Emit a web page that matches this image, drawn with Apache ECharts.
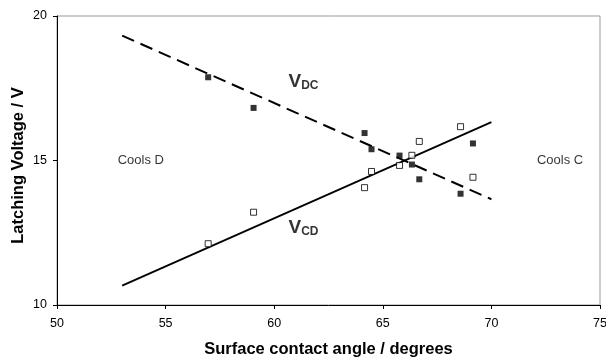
<!DOCTYPE html>
<html>
<head>
<meta charset="utf-8">
<script src="https://cdn.jsdelivr.net/npm/echarts@6/dist/echarts.min.js"></script>
<style>
  html, body { margin: 0; padding: 0; background: #fff; }
  #chart { width: 606px; height: 362px; }
</style>
</head>
<body>
<div id="chart"></div>
<script>
// measured points (contact angle, voltage)
var vdcPoints = [[56.96, 17.88], [59.05, 16.82], [64.16, 15.95], [64.48, 15.39], [65.77, 15.17],
  [66.34, 14.86], [66.68, 14.35], [68.58, 13.85], [69.15, 15.59]]
var vcdPoints = [[56.96, 12.12], [59.05, 13.21], [64.16, 14.06], [64.48, 14.62], [65.77, 14.83],
  [66.34, 15.18], [66.68, 15.66], [68.58, 16.17], [69.15, 14.42]]
// fitted trend lines
var vdcFit = [[53, 19.32], [70, 13.66]]
var vcdFit = [[53, 10.67], [70, 16.33]]
// text annotations
var seriesLabels = [
  { value: [61.35, 17.72], sub: 'DC' },
  { value: [61.35, 12.66], sub: 'CD' }
]
var regionLabels = [
  { value: [53.86, 15.0], text: 'Cools D' },
  { value: [73.16, 15.0], text: 'Cools C' }
]
var xTicks = { min: 50, max: 75, interval: 5 }
var yTicks = { min: 10, max: 20, interval: 5 }

var font = '"Liberation Sans", Arial, sans-serif'
var chart = echarts.init(document.getElementById('chart'))

var option = {
  animation: false,
  grid: {
    left: 57,
    right: 6,
    top: 16,
    bottom: 57,
    outerBoundsMode: 'none',
    containLabel: false,
    show: true,
    borderColor: '#999',
    borderWidth: 1
  },
  xAxis: {
    type: 'value',
    min: xTicks.min,
    max: xTicks.max,
    interval: xTicks.interval,
    name: 'Surface contact angle / degrees',
    nameLocation: 'middle',
    nameGap: 36,
    nameMoveOverlap: false,
    nameTextStyle: { fontFamily: font, fontSize: 16.5, fontWeight: 'bold', color: '#000' },
    axisLine: { lineStyle: { color: '#000', width: 1 } },
    axisTick: { show: true, length: 4, lineStyle: { color: '#000' } },
    axisLabel: { fontFamily: font, fontSize: 12.5, color: '#000', margin: 12 },
    splitLine: { show: false }
  },
  yAxis: {
    type: 'value',
    min: yTicks.min,
    max: yTicks.max,
    interval: yTicks.interval,
    name: 'Latching Voltage / V',
    nameLocation: 'middle',
    nameGap: 30,
    nameMoveOverlap: false,
    nameTextStyle: { fontFamily: font, fontSize: 16.5, fontWeight: 'bold', color: '#000', padding: [0, 10, 0, 0] },
    axisLine: { show: true, lineStyle: { color: '#000', width: 1 } },
    axisTick: { show: true, length: 4, lineStyle: { color: '#000' } },
    axisLabel: { fontFamily: font, fontSize: 12.5, color: '#000', margin: 10 },
    splitLine: { show: false }
  },
  series: [
    {
      name: 'VDC fit',
      type: 'line',
      data: vdcFit,
      symbol: 'none',
      lineStyle: { color: '#000', width: 2, type: [13, 7] },
      z: 2
    },
    {
      name: 'VCD fit',
      type: 'line',
      data: vcdFit,
      symbol: 'none',
      lineStyle: { color: '#000', width: 1.8 },
      z: 2
    },
    {
      name: 'VDC',
      type: 'scatter',
      data: vdcPoints,
      symbol: 'rect',
      symbolSize: 6,
      itemStyle: { color: '#000' },
      z: 3
    },
    {
      name: 'VCD',
      type: 'scatter',
      data: vcdPoints,
      symbol: 'rect',
      symbolSize: 6,
      itemStyle: { color: '#fff', borderColor: '#000', borderWidth: 1 },
      z: 3
    },
    {
      name: 'series labels',
      type: 'scatter',
      data: seriesLabels,
      symbolSize: 0,
      silent: true,
      label: {
        show: true,
        position: 'inside',
        formatter: function (p) {
          return '{v|V}{s|' + p.data.sub + '}'
        },
        rich: {
          v: { fontFamily: font, fontSize: 19, fontWeight: 'bold', color: '#000', lineHeight: 19, verticalAlign: 'bottom' },
          s: { fontFamily: font, fontSize: 12, fontWeight: 'bold', color: '#000', lineHeight: 12, verticalAlign: 'bottom' }
        }
      },
      z: 4
    },
    {
      name: 'region labels',
      type: 'scatter',
      data: regionLabels,
      symbolSize: 0,
      silent: true,
      label: {
        show: true,
        position: 'inside',
        formatter: function (p) {
          return p.data.text
        },
        fontFamily: font,
        fontSize: 13,
        color: '#000'
      },
      z: 4
    }
  ]
}
chart.setOption(option)
</script>
</body>
</html>
